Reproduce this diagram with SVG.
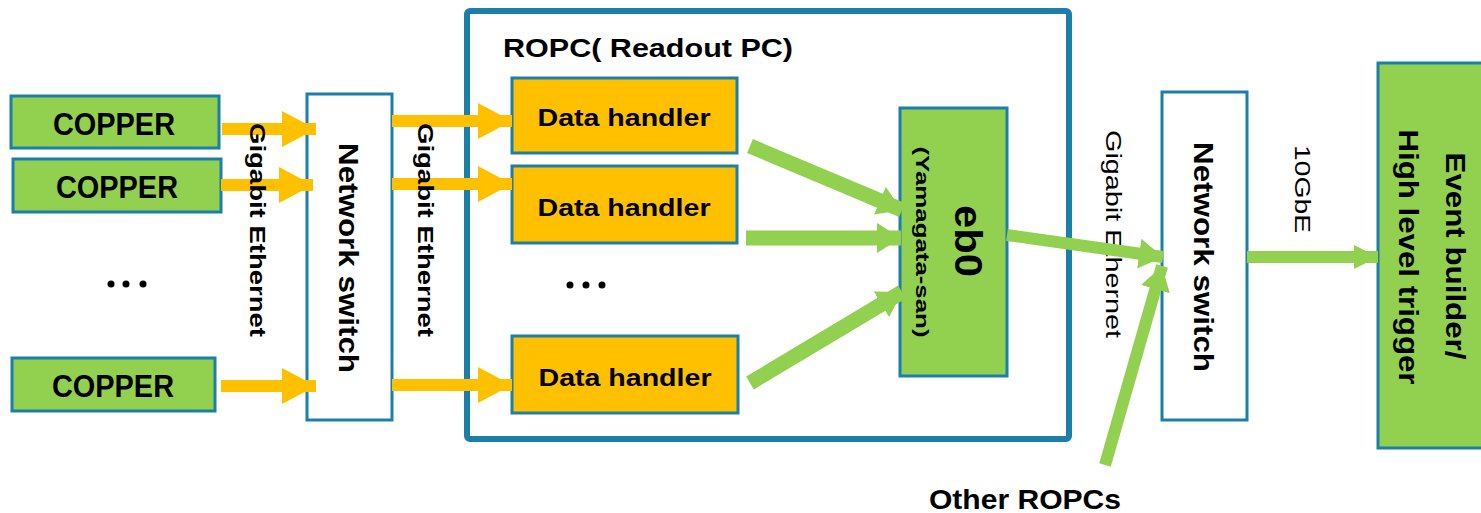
<svg xmlns="http://www.w3.org/2000/svg" width="1481" height="513" viewBox="0 0 1481 513">
  <style>
    .box { stroke: #1b7fa9; stroke-width: 3; }
    .green { fill: #92d050; }
    .yellow { fill: #ffc000; }
    .white { fill: #ffffff; }
    .t { font-family: "Liberation Sans", Arial, sans-serif; fill: #000; }
    .b { font-weight: bold; }
    .c { text-anchor: middle; dominant-baseline: central; }
    .ya { stroke: #ffc000; stroke-width: 12; fill: none; }
    .ga { stroke: #92d050; fill: none; }
  </style>
  <defs>
    <marker id="yhead" markerUnits="userSpaceOnUse" viewBox="0 0 34 36" markerWidth="34" markerHeight="36" refX="34" refY="18" orient="auto">
      <path d="M0,0 L34,18 L0,36 Z" fill="#ffc000"/>
    </marker>
    <marker id="ghead" markerUnits="userSpaceOnUse" viewBox="0 0 24 30" markerWidth="24" markerHeight="30" refX="24" refY="15" orient="auto">
      <path d="M0,0 L24,15 L0,30 Z" fill="#92d050"/>
    </marker>
    <marker id="ghead2" markerUnits="userSpaceOnUse" viewBox="0 0 24 24" markerWidth="24" markerHeight="24" refX="24" refY="12" orient="auto">
      <path d="M0,0 L24,12 L0,24 Z" fill="#92d050"/>
    </marker>
  </defs>

  <!-- readout PC enclosure -->
  <g id="ropc">
    <rect x="467" y="11" width="602" height="428" rx="3" fill="#fff" stroke="#1b7fa9" stroke-width="6"/>
    <text class="t b" x="503" y="57" font-size="26" textLength="290" lengthAdjust="spacingAndGlyphs">ROPC( Readout PC)</text>
  </g>

  <!-- front-end boards -->
  <g id="copper1">
    <rect class="box green" x="11" y="96" width="208" height="52"/>
    <text class="t b c" x="114" y="124" font-size="31" textLength="122" lengthAdjust="spacingAndGlyphs">COPPER</text>
  </g>
  <g id="copper2">
    <rect class="box green" x="13" y="159" width="208" height="53"/>
    <text class="t b c" x="117" y="187" font-size="31" textLength="122" lengthAdjust="spacingAndGlyphs">COPPER</text>
  </g>
  <g id="copper3">
    <rect class="box green" x="12" y="358" width="203" height="53"/>
    <text class="t b c" x="113" y="386" font-size="31" textLength="122" lengthAdjust="spacingAndGlyphs">COPPER</text>
  </g>
  <g id="copper-more">
    <circle cx="111" cy="284" r="3.5"/>
    <circle cx="126" cy="284" r="3.5"/>
    <circle cx="143" cy="284" r="3.5"/>
  </g>

  <!-- first network switch -->
  <g id="switch1">
    <rect class="box white" x="307" y="94" width="85" height="326"/>
    <text class="t b c" font-size="27" textLength="230" lengthAdjust="spacingAndGlyphs" transform="translate(348,258) rotate(90)">Network switch</text>
  </g>

  <!-- data handlers -->
  <g id="dh1">
    <rect class="box yellow" x="512" y="78" width="225" height="75"/>
    <text class="t b c" x="624" y="117" font-size="24" textLength="173" lengthAdjust="spacingAndGlyphs">Data handler</text>
  </g>
  <g id="dh2">
    <rect class="box yellow" x="512" y="166" width="225" height="77"/>
    <text class="t b c" x="624" y="207" font-size="24" textLength="173" lengthAdjust="spacingAndGlyphs">Data handler</text>
  </g>
  <g id="dh3">
    <rect class="box yellow" x="512" y="336" width="226" height="77"/>
    <text class="t b c" x="625" y="377" font-size="24" textLength="173" lengthAdjust="spacingAndGlyphs">Data handler</text>
  </g>
  <g id="dh-more">
    <circle cx="570" cy="285" r="3.5"/>
    <circle cx="586" cy="285" r="3.5"/>
    <circle cx="602" cy="285" r="3.5"/>
  </g>

  <!-- event builder stage 0 -->
  <g id="eb0">
    <rect class="box green" x="900" y="108" width="107" height="268"/>
    <text class="t b c" font-size="38" textLength="72" lengthAdjust="spacingAndGlyphs" transform="translate(968,241) rotate(90)">eb0</text>
    <text class="t b c" font-size="19" textLength="191" lengthAdjust="spacingAndGlyphs" transform="translate(922,242) rotate(90)">(Yamagata-san)</text>
  </g>

  <!-- second network switch -->
  <g id="switch2">
    <rect class="box white" x="1162" y="92" width="85" height="328"/>
    <text class="t b c" font-size="27" textLength="230" lengthAdjust="spacingAndGlyphs" transform="translate(1203,257) rotate(90)">Network switch</text>
  </g>

  <!-- downstream event builder -->
  <g id="evb">
    <rect class="box green" x="1378" y="63" width="110" height="385"/>
    <text class="t b c" font-size="27" textLength="207" lengthAdjust="spacingAndGlyphs" transform="translate(1455,256) rotate(90)">Event builder/</text>
    <text class="t b c" font-size="27" textLength="255" lengthAdjust="spacingAndGlyphs" transform="translate(1408,257) rotate(90)">High level trigger</text>
  </g>

  <g id="other-ropcs">
    <text class="t b" x="929" y="509" font-size="28" textLength="192" lengthAdjust="spacingAndGlyphs">Other ROPCs</text>
  </g>

  <!-- label under the eb0 uplink (the arrow passes over it) -->
  <g id="uplink-label">
    <text class="t c" font-size="22" textLength="208" lengthAdjust="spacingAndGlyphs" transform="translate(1113,234) rotate(90)">Gigabit Ethernet</text>
  </g>

  <!-- links -->
  <g id="connectors">
    <line class="ya" x1="222" y1="129" x2="316" y2="129" marker-end="url(#yhead)"/>
    <line class="ya" x1="221" y1="185" x2="313" y2="185" marker-end="url(#yhead)"/>
    <line class="ya" x1="221" y1="386" x2="316" y2="386" marker-end="url(#yhead)"/>

    <line class="ya" x1="392" y1="121" x2="512" y2="121" marker-end="url(#yhead)"/>
    <line class="ya" x1="392" y1="184" x2="512" y2="184" marker-end="url(#yhead)"/>
    <line class="ya" x1="392" y1="385" x2="512" y2="385" marker-end="url(#yhead)"/>

    <line class="ga" stroke-width="15" x1="750" y1="146" x2="902" y2="210" marker-end="url(#ghead)"/>
    <line class="ga" stroke-width="15" x1="746" y1="238" x2="901" y2="238" marker-end="url(#ghead)"/>
    <line class="ga" stroke-width="15" x1="750" y1="383" x2="902" y2="292" marker-end="url(#ghead)"/>

    <line class="ga" stroke-width="12" x1="1007" y1="235" x2="1163" y2="257" marker-end="url(#ghead)"/>
    <line class="ga" stroke-width="12" x1="1105" y1="465" x2="1162" y2="266" marker-end="url(#ghead)"/>
    <line class="ga" stroke-width="12" x1="1247" y1="257" x2="1378" y2="257" marker-end="url(#ghead2)"/>
  </g>

  <!-- link labels -->
  <g id="labels">
    <text class="t b c" font-size="22" textLength="214" lengthAdjust="spacingAndGlyphs" transform="translate(257,230) rotate(90)">Gigabit Ethernet</text>
    <text class="t b c" font-size="22" textLength="214" lengthAdjust="spacingAndGlyphs" transform="translate(425,230) rotate(90)">Gigabit Ethernet</text>
    <text class="t c" font-size="22" textLength="88" lengthAdjust="spacingAndGlyphs" transform="translate(1302,189) rotate(90)">10GbE</text>
  </g>
</svg>
